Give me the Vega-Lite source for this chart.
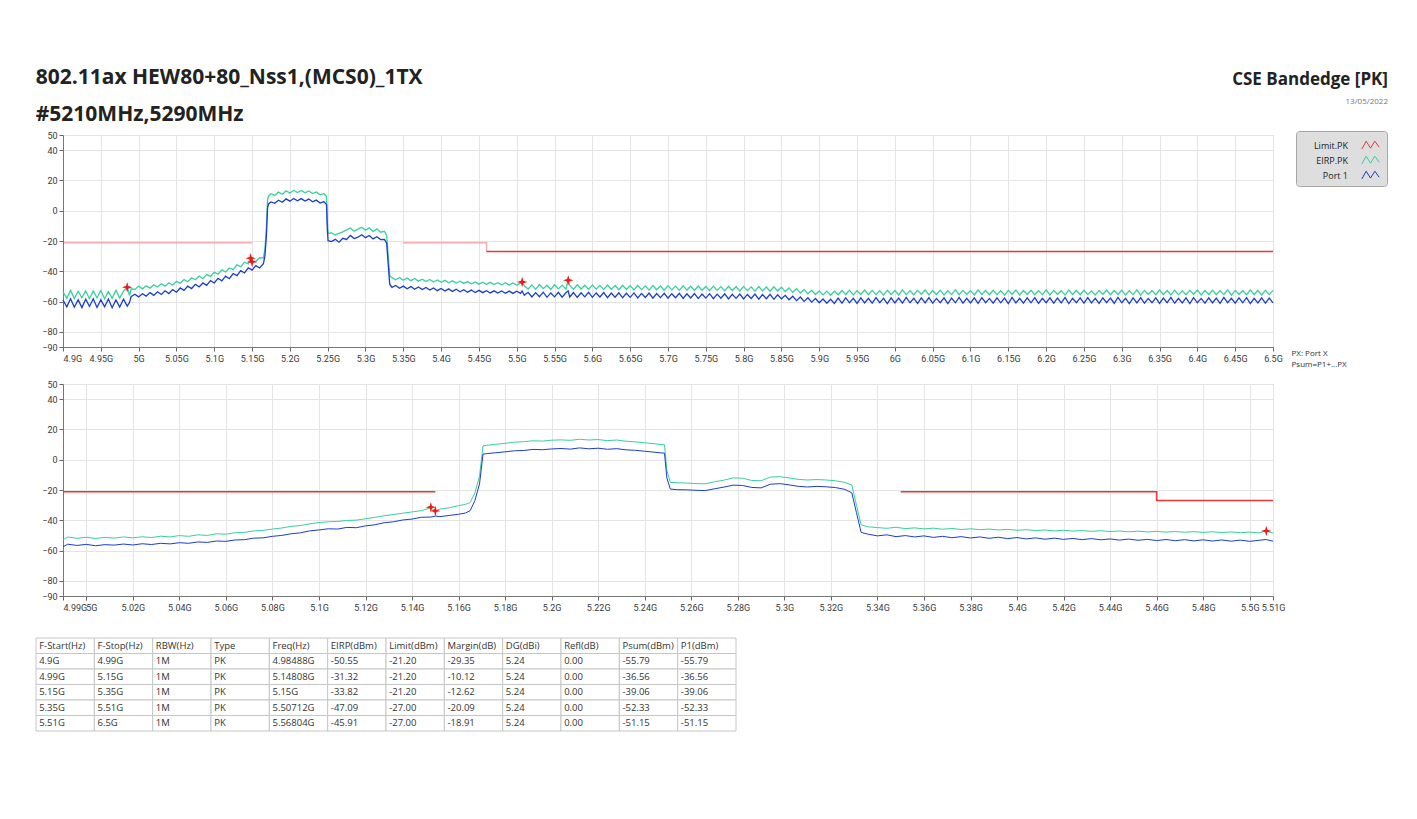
{
"$schema": "https://vega.github.io/schema/vega-lite/v6.json",
"background": "white",
"padding": {"left": 35, "top": 66, "right": 30, "bottom": 0},
"config": {
  "font": "Open Sans",
  "view": {"stroke": "#b5b5b5"},
  "axis": {"labelFontSize": 9, "labelColor": "#3a3a3a", "gridColor": "#e4e4e4", "tickColor": "#666", "domainColor": "#777", "labelFont": "Roboto"}
},
"title": {"text": "CSE Bandedge [PK]", "subtitle": "13/05/2022", "anchor": "end", "fontSize": 17, "fontWeight": "bold", "font": "Open Sans", "color": "#222", "subtitleFontSize": 8, "subtitleColor": "#777", "subtitleFont": "Open Sans", "subtitlePadding": 9, "offset": -41},
"datasets": {
"limTop": [{"i":1,"g":1,"f":4.9,"v":-21.2},{"i":2,"g":1,"f":5.15,"v":-21.2},{"i":3,"g":2,"f":5.35,"v":-21.2},{"i":4,"g":2,"f":5.46,"v":-21.2},{"i":5,"g":2,"f":5.46,"v":-27},{"i":6,"g":3,"f":5.46,"v":-27},{"i":7,"g":3,"f":6.5,"v":-27}],
"limBot": [{"i":1,"g":1,"f":4.99,"v":-21.2},{"i":2,"g":1,"f":5.15,"v":-21.2},{"i":3,"g":2,"f":5.35,"v":-21.2},{"i":4,"g":2,"f":5.46,"v":-21.2},{"i":5,"g":2,"f":5.46,"v":-27},{"i":6,"g":2,"f":5.51,"v":-27}],
"mkTop": [{"f":4.98488,"v":-50.55},{"f":5.14808,"v":-31.32},{"f":5.15,"v":-33.82},{"f":5.50712,"v":-47.09},{"f":5.56804,"v":-45.91}],
"mkBot": [{"f":5.14808,"v":-31.32},{"f":5.15,"v":-33.82},{"f":5.50712,"v":-47.09}],
"top": [
{"f":4.9,"p":-59.0,"e":-53.5},{"f":4.905,"p":-63.5,"e":-57.8},{"f":4.91,"p":-58.2,"e":-52.6},{"f":4.915,"p":-63.8,"e":-58.0},{"f":4.92,"p":-58.8,"e":-53.2},{"f":4.925,"p":-64.0,"e":-57.5},{"f":4.93,"p":-58.5,"e":-52.9},{"f":4.935,"p":-63.2,"e":-58.2},{"f":4.94,"p":-58.1,"e":-53.0},{"f":4.945,"p":-63.9,"e":-57.6},{"f":4.95,"p":-58.7,"e":-52.7},{"f":4.955,"p":-63.4,"e":-58.1},{"f":4.96,"p":-58.3,"e":-53.4},{"f":4.965,"p":-64.1,"e":-57.9},{"f":4.97,"p":-58.9,"e":-52.5},{"f":4.975,"p":-63.6,"e":-57.7},{"f":4.98,"p":-58.4,"e":-53.1},{"f":4.985,"p":-63.0,"e":-50.6},{"f":4.988,"p":-60.5,"e":-56.0},{"f":4.99,"p":-56.8,"e":-51.6},
{"f":4.995,"p":-55.2,"e":-52.0},{"f":5.0,"p":-56.9,"e":-49.8},{"f":5.005,"p":-54.8,"e":-51.6},{"f":5.01,"p":-56.4,"e":-49.6},{"f":5.015,"p":-54.1,"e":-51.1},{"f":5.02,"p":-55.9,"e":-48.9},{"f":5.025,"p":-53.5,"e":-50.4},{"f":5.03,"p":-55.3,"e":-48.2},{"f":5.035,"p":-52.9,"e":-49.8},{"f":5.04,"p":-54.7,"e":-47.6},{"f":5.045,"p":-52.1,"e":-49.2},{"f":5.05,"p":-53.8,"e":-46.6},{"f":5.055,"p":-51.0,"e":-48.0},{"f":5.06,"p":-52.6,"e":-45.5},{"f":5.065,"p":-49.8,"e":-46.9},{"f":5.07,"p":-51.4,"e":-44.3},{"f":5.075,"p":-48.6,"e":-45.6},{"f":5.08,"p":-50.3,"e":-43.1},{"f":5.085,"p":-47.7,"e":-44.9},{"f":5.09,"p":-49.3,"e":-42.2},{"f":5.095,"p":-46.2,"e":-43.4},{"f":5.1,"p":-47.7,"e":-40.6},{"f":5.105,"p":-44.6,"e":-41.9},{"f":5.11,"p":-46.3,"e":-39.1},{"f":5.115,"p":-43.2,"e":-40.5},{"f":5.12,"p":-44.9,"e":-37.8},{"f":5.125,"p":-41.5,"e":-38.9},{"f":5.13,"p":-42.9,"e":-35.8},{"f":5.135,"p":-39.6,"e":-37.0},{"f":5.14,"p":-41.1,"e":-34.0},{"f":5.145,"p":-37.8,"e":-35.1},{"f":5.148,"p":-38.6,"e":-31.5},{"f":5.15,"p":-39.2,"e":-33.8},{"f":5.155,"p":-36.3,"e":-33.4},{"f":5.16,"p":-37.8,"e":-31.0},{"f":5.165,"p":-35.0,"e":-31.2},
{"f":5.167,"p":-30.0,"e":-25.5},{"f":5.169,"p":-16.0,"e":-11.0},{"f":5.1705,"p":2.0,"e":7.5},{"f":5.172,"p":4.6,"e":9.9},
{"f":5.175,"p":5.8,"e":11.2},{"f":5.18,"p":4.9,"e":10.1},{"f":5.185,"p":6.9,"e":12.3},{"f":5.19,"p":5.6,"e":10.9},{"f":5.195,"p":7.8,"e":13.2},{"f":5.2,"p":6.3,"e":11.6},{"f":5.205,"p":8.1,"e":13.5},{"f":5.21,"p":6.6,"e":12.0},{"f":5.215,"p":8.0,"e":13.4},{"f":5.22,"p":6.4,"e":11.8},{"f":5.225,"p":7.7,"e":13.0},{"f":5.23,"p":5.9,"e":11.3},{"f":5.235,"p":7.0,"e":12.4},{"f":5.24,"p":5.1,"e":10.5},{"f":5.245,"p":6.0,"e":11.4},{"f":5.2485,"p":4.0,"e":9.4},{"f":5.2495,"p":-12.0,"e":-7.0},{"f":5.2505,"p":-19.8,"e":-15.0},
{"f":5.255,"p":-20.4,"e":-14.6},{"f":5.26,"p":-18.9,"e":-16.0},{"f":5.265,"p":-20.8,"e":-14.9},{"f":5.27,"p":-18.2,"e":-14.0},{"f":5.275,"p":-19.0,"e":-12.6},{"f":5.28,"p":-16.3,"e":-11.4},{"f":5.285,"p":-18.4,"e":-13.6},{"f":5.29,"p":-17.5,"e":-12.2},{"f":5.295,"p":-15.9,"e":-10.9},{"f":5.3,"p":-17.8,"e":-12.8},{"f":5.305,"p":-16.4,"e":-11.3},{"f":5.31,"p":-18.6,"e":-13.8},{"f":5.315,"p":-17.2,"e":-12.0},{"f":5.32,"p":-19.1,"e":-14.2},{"f":5.325,"p":-18.9,"e":-13.6},{"f":5.328,"p":-21.5,"e":-16.4},{"f":5.33,"p":-35.0,"e":-30.0},{"f":5.332,"p":-48.5,"e":-43.0},{"f":5.335,"p":-50.6,"e":-44.2},
{"f":5.34,"p":-49.4,"e":-45.6},{"f":5.345,"p":-51.2,"e":-44.1},{"f":5.35,"p":-49.8,"e":-45.9},{"f":5.355,"p":-51.5,"e":-44.4},{"f":5.36,"p":-50.1,"e":-46.2},{"f":5.365,"p":-51.9,"e":-44.8},{"f":5.37,"p":-50.4,"e":-46.5},{"f":5.375,"p":-52.1,"e":-45.2},{"f":5.38,"p":-50.7,"e":-46.8},{"f":5.385,"p":-52.4,"e":-45.4},{"f":5.39,"p":-51.0,"e":-47.1},{"f":5.395,"p":-52.8,"e":-45.7},{"f":5.4,"p":-51.3,"e":-47.3},{"f":5.405,"p":-53.0,"e":-46.0},{"f":5.41,"p":-51.6,"e":-47.6},{"f":5.415,"p":-53.3,"e":-46.3},{"f":5.42,"p":-51.9,"e":-47.8},{"f":5.425,"p":-53.5,"e":-46.5},{"f":5.43,"p":-52.2,"e":-48.0},{"f":5.435,"p":-53.8,"e":-46.8},{"f":5.44,"p":-52.4,"e":-48.3},{"f":5.445,"p":-54.0,"e":-47.0},{"f":5.45,"p":-52.6,"e":-48.5},{"f":5.455,"p":-54.1,"e":-47.2},{"f":5.46,"p":-52.8,"e":-48.6},{"f":5.465,"p":-54.3,"e":-47.3},{"f":5.47,"p":-52.9,"e":-48.8},{"f":5.475,"p":-54.4,"e":-47.5},{"f":5.48,"p":-53.0,"e":-48.9},{"f":5.485,"p":-54.5,"e":-47.6},{"f":5.49,"p":-53.1,"e":-49.0},{"f":5.495,"p":-54.6,"e":-47.7},{"f":5.5,"p":-53.2,"e":-49.1},{"f":5.505,"p":-54.6,"e":-47.8},{"f":5.507,"p":-53.0,"e":-47.1},{"f":5.51,"p":-55.9,"e":-49.6},
{"f":5.515,"p":-53.9,"e":-51.7},{"f":5.52,"p":-57.0,"e":-49.0},{"f":5.525,"p":-54.1,"e":-51.9},{"f":5.53,"p":-56.8,"e":-48.8},{"f":5.535,"p":-53.8,"e":-51.5},{"f":5.54,"p":-57.2,"e":-49.2},{"f":5.545,"p":-54.3,"e":-52.0},{"f":5.55,"p":-56.9,"e":-48.9},{"f":5.555,"p":-53.9,"e":-51.6},{"f":5.56,"p":-57.1,"e":-49.1},{"f":5.565,"p":-54.2,"e":-51.8},{"f":5.568,"p":-52.9,"e":-45.9},{"f":5.57,"p":-57.0,"e":-49.3},{"f":5.575,"p":-54.0,"e":-51.9},{"f":5.58,"p":-57.3,"e":-48.9},{"f":5.585,"p":-54.2,"e":-51.7},{"f":5.59,"p":-56.9,"e":-49.2},{"f":5.595,"p":-53.9,"e":-52.0},{"f":5.6,"p":-57.2,"e":-49.0},{"f":5.605,"p":-54.3,"e":-51.8},{"f":5.61,"p":-57.0,"e":-49.3},{"f":5.615,"p":-54.1,"e":-52.1},{"f":5.62,"p":-57.4,"e":-49.1},{"f":5.625,"p":-54.4,"e":-51.9},{"f":5.63,"p":-57.1,"e":-49.4},{"f":5.635,"p":-54.2,"e":-52.2},{"f":5.64,"p":-57.5,"e":-49.2},{"f":5.645,"p":-54.5,"e":-52.0},{"f":5.65,"p":-57.2,"e":-49.5},{"f":5.655,"p":-54.3,"e":-52.3},{"f":5.66,"p":-57.6,"e":-49.3},{"f":5.665,"p":-54.6,"e":-52.1},{"f":5.67,"p":-57.3,"e":-49.6},{"f":5.675,"p":-54.4,"e":-52.4},{"f":5.68,"p":-57.7,"e":-49.4},{"f":5.685,"p":-54.7,"e":-52.2},{"f":5.69,"p":-57.4,"e":-49.7},{"f":5.695,"p":-54.5,"e":-52.5},{"f":5.7,"p":-57.8,"e":-49.5},{"f":5.705,"p":-54.8,"e":-52.3},{"f":5.71,"p":-57.5,"e":-49.8},{"f":5.715,"p":-54.6,"e":-52.6},{"f":5.72,"p":-57.9,"e":-49.6},{"f":5.725,"p":-54.9,"e":-52.4},{"f":5.73,"p":-57.6,"e":-49.9},{"f":5.735,"p":-54.7,"e":-52.7},{"f":5.74,"p":-58.0,"e":-49.7},{"f":5.745,"p":-55.0,"e":-52.5},{"f":5.75,"p":-57.7,"e":-50.0},{"f":5.755,"p":-54.8,"e":-52.8},{"f":5.76,"p":-58.1,"e":-49.8},{"f":5.765,"p":-55.1,"e":-52.6},{"f":5.77,"p":-57.8,"e":-50.1},{"f":5.775,"p":-54.9,"e":-52.9},{"f":5.78,"p":-58.2,"e":-49.9},{"f":5.785,"p":-55.2,"e":-52.7},{"f":5.79,"p":-57.9,"e":-50.2},{"f":5.795,"p":-55.0,"e":-53.0},{"f":5.8,"p":-58.3,"e":-50.0},{"f":5.805,"p":-55.3,"e":-52.8},{"f":5.81,"p":-58.0,"e":-50.3},{"f":5.815,"p":-55.1,"e":-53.1},{"f":5.82,"p":-58.4,"e":-50.1},{"f":5.825,"p":-55.4,"e":-52.9},{"f":5.83,"p":-58.1,"e":-50.4},{"f":5.835,"p":-55.2,"e":-53.2},{"f":5.84,"p":-58.5,"e":-50.2},{"f":5.845,"p":-55.5,"e":-53.0},{"f":5.85,"p":-58.2,"e":-50.5},
{"f":5.855,"p":-55.9,"e":-53.4},{"f":5.86,"p":-58.8,"e":-51.0},{"f":5.865,"p":-56.5,"e":-53.9},{"f":5.87,"p":-59.4,"e":-51.5},{"f":5.875,"p":-57.0,"e":-54.4},{"f":5.88,"p":-59.9,"e":-52.0},{"f":5.885,"p":-57.5,"e":-54.9},{"f":5.89,"p":-60.4,"e":-52.5},{"f":5.895,"p":-58.0,"e":-55.3},{"f":5.9,"p":-60.8,"e":-52.9},{"f":5.905,"p":-58.3,"e":-55.6},{"f":5.91,"p":-61.1,"e":-53.1},{"f":5.915,"p":-58.5,"e":-55.8},{"f":5.92,"p":-61.2,"e":-53.2},
{"f":5.925,"p":-57.7,"e":-55.5},{"f":5.93,"p":-61.0,"e":-52.7},{"f":5.935,"p":-57.5,"e":-55.3},{"f":5.94,"p":-60.8,"e":-52.5},{"f":5.945,"p":-57.9,"e":-55.6},{"f":5.95,"p":-61.2,"e":-52.8},{"f":5.955,"p":-57.6,"e":-55.2},{"f":5.96,"p":-60.9,"e":-52.4},{"f":5.965,"p":-57.8,"e":-55.5},{"f":5.97,"p":-61.1,"e":-52.6},{"f":5.975,"p":-57.4,"e":-55.4},{"f":5.98,"p":-60.7,"e":-52.9},{"f":5.985,"p":-57.9,"e":-55.7},{"f":5.99,"p":-61.3,"e":-52.5},{"f":5.995,"p":-57.5,"e":-55.3},{"f":6.0,"p":-60.9,"e":-52.7},{"f":6.005,"p":-57.7,"e":-55.6},{"f":6.01,"p":-61.0,"e":-52.3},{"f":6.015,"p":-57.3,"e":-55.4},{"f":6.02,"p":-60.8,"e":-52.8},{"f":6.025,"p":-57.8,"e":-55.5},{"f":6.03,"p":-61.2,"e":-52.6},{"f":6.035,"p":-57.6,"e":-55.2},{"f":6.04,"p":-60.9,"e":-52.4},{"f":6.045,"p":-57.4,"e":-55.6},{"f":6.05,"p":-61.1,"e":-52.7},{"f":6.055,"p":-57.9,"e":-55.3},{"f":6.06,"p":-60.7,"e":-52.5},{"f":6.065,"p":-57.5,"e":-55.7},{"f":6.07,"p":-61.3,"e":-52.9},{"f":6.075,"p":-57.7,"e":-55.4},{"f":6.08,"p":-60.8,"e":-52.3},{"f":6.085,"p":-57.3,"e":-55.5},{"f":6.09,"p":-61.0,"e":-52.6},{"f":6.095,"p":-57.8,"e":-55.2},{"f":6.1,"p":-60.9,"e":-52.8},{"f":6.105,"p":-57.6,"e":-55.6},{"f":6.11,"p":-61.2,"e":-52.4},{"f":6.115,"p":-57.4,"e":-55.3},{"f":6.12,"p":-60.7,"e":-52.7},{"f":6.125,"p":-57.9,"e":-55.5},{"f":6.13,"p":-61.1,"e":-52.5},{"f":6.135,"p":-57.5,"e":-55.4},{"f":6.14,"p":-60.8,"e":-52.9},{"f":6.145,"p":-57.7,"e":-55.7},{"f":6.15,"p":-61.3,"e":-52.6},{"f":6.155,"p":-57.3,"e":-55.2},{"f":6.16,"p":-60.9,"e":-52.4},{"f":6.165,"p":-57.8,"e":-55.6},{"f":6.17,"p":-61.0,"e":-52.7},{"f":6.175,"p":-57.6,"e":-55.3},{"f":6.18,"p":-60.8,"e":-52.5},{"f":6.185,"p":-57.4,"e":-55.5},{"f":6.19,"p":-61.2,"e":-52.8},{"f":6.195,"p":-57.9,"e":-55.4},{"f":6.2,"p":-60.7,"e":-52.3},{"f":6.205,"p":-57.5,"e":-55.6},{"f":6.21,"p":-61.1,"e":-52.6},{"f":6.215,"p":-57.7,"e":-55.2},{"f":6.22,"p":-60.9,"e":-52.8},{"f":6.225,"p":-57.3,"e":-55.7},{"f":6.23,"p":-61.3,"e":-52.4},{"f":6.235,"p":-57.8,"e":-55.3},{"f":6.24,"p":-60.8,"e":-52.7},{"f":6.245,"p":-57.6,"e":-55.5},{"f":6.25,"p":-61.0,"e":-52.5},{"f":6.255,"p":-57.4,"e":-55.4},{"f":6.26,"p":-60.9,"e":-52.9},{"f":6.265,"p":-57.9,"e":-55.6},{"f":6.27,"p":-61.2,"e":-52.6},{"f":6.275,"p":-57.5,"e":-55.2},{"f":6.28,"p":-60.7,"e":-52.4},{"f":6.285,"p":-57.7,"e":-55.5},{"f":6.29,"p":-61.1,"e":-52.7},{"f":6.295,"p":-57.3,"e":-55.3},{"f":6.3,"p":-60.8,"e":-52.5},{"f":6.305,"p":-57.8,"e":-55.6},{"f":6.31,"p":-61.3,"e":-52.8},{"f":6.315,"p":-57.6,"e":-55.4},{"f":6.32,"p":-60.9,"e":-52.3},{"f":6.325,"p":-57.4,"e":-55.7},{"f":6.33,"p":-61.0,"e":-52.6},{"f":6.335,"p":-57.9,"e":-55.2},{"f":6.34,"p":-60.8,"e":-52.8},{"f":6.345,"p":-57.5,"e":-55.5},{"f":6.35,"p":-61.2,"e":-52.4},{"f":6.355,"p":-57.7,"e":-55.3},{"f":6.36,"p":-60.7,"e":-52.7},{"f":6.365,"p":-57.3,"e":-55.6},{"f":6.37,"p":-61.1,"e":-52.5},{"f":6.375,"p":-57.8,"e":-55.4},{"f":6.38,"p":-60.9,"e":-52.9},{"f":6.385,"p":-57.6,"e":-55.5},{"f":6.39,"p":-61.3,"e":-52.6},{"f":6.395,"p":-57.4,"e":-55.2},{"f":6.4,"p":-60.8,"e":-52.4},{"f":6.405,"p":-57.9,"e":-55.6},{"f":6.41,"p":-61.0,"e":-52.7},{"f":6.415,"p":-57.5,"e":-55.3},{"f":6.42,"p":-60.9,"e":-52.5},{"f":6.425,"p":-57.7,"e":-55.5},{"f":6.43,"p":-61.2,"e":-52.8},{"f":6.435,"p":-57.3,"e":-55.4},{"f":6.44,"p":-60.7,"e":-52.3},{"f":6.445,"p":-57.8,"e":-55.7},{"f":6.45,"p":-61.1,"e":-52.6},{"f":6.455,"p":-57.6,"e":-55.2},{"f":6.46,"p":-60.8,"e":-52.8},{"f":6.465,"p":-57.4,"e":-55.5},{"f":6.47,"p":-61.3,"e":-52.4},{"f":6.475,"p":-57.9,"e":-55.3},{"f":6.48,"p":-60.9,"e":-52.7},{"f":6.485,"p":-57.5,"e":-55.6},{"f":6.49,"p":-61.0,"e":-52.5},{"f":6.495,"p":-57.7,"e":-55.4},{"f":6.5,"p":-60.8,"e":-52.6}
],
"bot": [
{"f":4.99,"p":-57.5,"e":-52.8},{"f":4.992,"p":-55.8,"e":-51.0},{"f":4.996,"p":-56.6,"e":-51.9},{"f":5.0,"p":-55.9,"e":-51.2},{"f":5.004,"p":-56.8,"e":-52.0},{"f":5.008,"p":-56.1,"e":-51.3},{"f":5.012,"p":-56.4,"e":-51.8},{"f":5.016,"p":-55.7,"e":-51.0},{"f":5.02,"p":-56.3,"e":-51.6},{"f":5.024,"p":-55.5,"e":-50.9},{"f":5.028,"p":-56.0,"e":-51.4},{"f":5.032,"p":-55.2,"e":-50.5},{"f":5.036,"p":-55.6,"e":-51.0},{"f":5.04,"p":-54.8,"e":-50.1},{"f":5.044,"p":-55.2,"e":-50.6},{"f":5.048,"p":-54.3,"e":-49.6},{"f":5.052,"p":-54.6,"e":-50.0},{"f":5.056,"p":-53.7,"e":-48.9},{"f":5.06,"p":-53.9,"e":-49.2},{"f":5.064,"p":-53.0,"e":-48.2},{"f":5.068,"p":-52.8,"e":-48.0},{"f":5.072,"p":-51.8,"e":-47.0},{"f":5.076,"p":-51.6,"e":-46.7},{"f":5.08,"p":-50.6,"e":-45.8},{"f":5.084,"p":-50.0,"e":-45.1},{"f":5.088,"p":-48.9,"e":-44.0},{"f":5.092,"p":-48.3,"e":-43.5},{"f":5.096,"p":-47.0,"e":-42.3},{"f":5.1,"p":-46.4,"e":-41.5},{"f":5.104,"p":-45.6,"e":-41.0},{"f":5.108,"p":-45.8,"e":-40.8},{"f":5.112,"p":-44.7,"e":-40.1},{"f":5.116,"p":-44.9,"e":-39.9},{"f":5.12,"p":-43.7,"e":-39.0},{"f":5.124,"p":-43.0,"e":-38.1},{"f":5.128,"p":-41.6,"e":-37.0},{"f":5.132,"p":-41.0,"e":-36.2},{"f":5.136,"p":-39.8,"e":-35.3},{"f":5.14,"p":-39.2,"e":-34.5},{"f":5.144,"p":-38.0,"e":-33.6},{"f":5.148,"p":-37.9,"e":-31.8},{"f":5.15,"p":-37.2,"e":-33.8},{"f":5.152,"p":-37.6,"e":-32.6},{"f":5.156,"p":-36.8,"e":-31.7},{"f":5.16,"p":-36.0,"e":-30.3},{"f":5.163,"p":-35.2,"e":-29.5},{"f":5.165,"p":-33.6,"e":-28.2},{"f":5.167,"p":-27.0,"e":-22.0},{"f":5.169,"p":-16.0,"e":-10.8},{"f":5.1705,"p":3.7,"e":9.2},{"f":5.172,"p":4.0,"e":9.5},{"f":5.176,"p":4.6,"e":10.2},{"f":5.18,"p":5.2,"e":10.8},{"f":5.184,"p":5.9,"e":11.6},{"f":5.188,"p":6.1,"e":11.9},{"f":5.192,"p":6.8,"e":12.5},{"f":5.196,"p":6.6,"e":12.3},{"f":5.2,"p":7.1,"e":12.9},{"f":5.204,"p":7.4,"e":13.1},{"f":5.208,"p":7.0,"e":12.8},{"f":5.212,"p":7.8,"e":13.5},{"f":5.216,"p":7.2,"e":13.0},{"f":5.22,"p":7.6,"e":13.3},{"f":5.224,"p":6.9,"e":12.6},{"f":5.228,"p":7.3,"e":13.0},{"f":5.232,"p":6.5,"e":12.2},{"f":5.236,"p":6.2,"e":11.8},{"f":5.24,"p":5.6,"e":11.2},{"f":5.244,"p":5.0,"e":10.6},{"f":5.247,"p":4.5,"e":10.0},{"f":5.2485,"p":4.3,"e":9.9},{"f":5.2495,"p":-12.0,"e":-7.0},{"f":5.251,"p":-19.4,"e":-15.0},{"f":5.254,"p":-19.8,"e":-15.2},{"f":5.258,"p":-19.9,"e":-15.4},{"f":5.262,"p":-20.2,"e":-15.8},{"f":5.266,"p":-20.4,"e":-15.9},{"f":5.27,"p":-19.2,"e":-14.6},{"f":5.274,"p":-18.1,"e":-13.5},{"f":5.278,"p":-16.8,"e":-12.0},{"f":5.282,"p":-17.0,"e":-12.2},{"f":5.286,"p":-18.3,"e":-13.7},{"f":5.29,"p":-18.6,"e":-13.9},{"f":5.294,"p":-16.2,"e":-11.5},{"f":5.298,"p":-15.8,"e":-11.2},{"f":5.302,"p":-16.6,"e":-12.0},{"f":5.306,"p":-17.6,"e":-13.0},{"f":5.31,"p":-18.0,"e":-13.4},{"f":5.314,"p":-17.6,"e":-13.1},{"f":5.318,"p":-17.9,"e":-13.4},{"f":5.322,"p":-18.4,"e":-13.9},{"f":5.326,"p":-19.6,"e":-15.0},{"f":5.329,"p":-21.9,"e":-16.8},{"f":5.331,"p":-35.0,"e":-30.0},{"f":5.333,"p":-48.0,"e":-43.0},{"f":5.336,"p":-49.2,"e":-44.3},{"f":5.34,"p":-50.3,"e":-44.8},{"f":5.344,"p":-49.6,"e":-45.3},{"f":5.348,"p":-50.8,"e":-44.6},{"f":5.352,"p":-50.1,"e":-45.5},{"f":5.356,"p":-51.0,"e":-45.0},{"f":5.36,"p":-50.3,"e":-45.7},{"f":5.364,"p":-51.3,"e":-45.2},{"f":5.368,"p":-50.6,"e":-45.9},{"f":5.372,"p":-51.5,"e":-45.4},{"f":5.376,"p":-50.8,"e":-46.1},{"f":5.38,"p":-51.7,"e":-45.6},{"f":5.384,"p":-51.0,"e":-46.2},{"f":5.388,"p":-51.9,"e":-45.8},{"f":5.392,"p":-51.2,"e":-46.4},{"f":5.396,"p":-52.1,"e":-46.0},{"f":5.4,"p":-51.4,"e":-46.6},{"f":5.404,"p":-52.3,"e":-46.2},{"f":5.408,"p":-51.6,"e":-46.8},{"f":5.412,"p":-52.5,"e":-46.4},{"f":5.416,"p":-51.8,"e":-47.0},{"f":5.42,"p":-52.6,"e":-46.6},{"f":5.424,"p":-52.0,"e":-47.1},{"f":5.428,"p":-52.8,"e":-46.8},{"f":5.432,"p":-52.1,"e":-47.3},{"f":5.436,"p":-52.9,"e":-46.9},{"f":5.44,"p":-52.3,"e":-47.4},{"f":5.444,"p":-53.1,"e":-47.1},{"f":5.448,"p":-52.4,"e":-47.6},{"f":5.452,"p":-53.2,"e":-47.2},{"f":5.456,"p":-52.6,"e":-47.7},{"f":5.46,"p":-53.4,"e":-47.3},{"f":5.464,"p":-52.7,"e":-47.8},{"f":5.468,"p":-53.5,"e":-47.4},{"f":5.472,"p":-52.8,"e":-47.9},{"f":5.476,"p":-53.6,"e":-47.5},{"f":5.48,"p":-52.9,"e":-48.0},{"f":5.484,"p":-53.7,"e":-47.6},{"f":5.488,"p":-53.0,"e":-48.1},{"f":5.492,"p":-53.8,"e":-47.7},{"f":5.496,"p":-53.1,"e":-48.2},{"f":5.5,"p":-53.9,"e":-47.8},{"f":5.504,"p":-53.2,"e":-48.3},{"f":5.507,"p":-52.7,"e":-47.1},{"f":5.51,"p":-53.8,"e":-48.4}
],
"tbl": [
{"r":0,"a":"F-Start(Hz)","b":"F-Stop(Hz)","c":"RBW(Hz)","d":"Type","e":"Freq(Hz)","f":"EIRP(dBm)","g":"Limit(dBm)","h":"Margin(dB)","i":"DG(dBi)","j":"Refl(dB)","k":"Psum(dBm)","l":"P1(dBm)"},
{"r":1,"a":"4.9G","b":"4.99G","c":"1M","d":"PK","e":"4.98488G","f":"-50.55","g":"-21.20","h":"-29.35","i":"5.24","j":"0.00","k":"-55.79","l":"-55.79"},
{"r":2,"a":"4.99G","b":"5.15G","c":"1M","d":"PK","e":"5.14808G","f":"-31.32","g":"-21.20","h":"-10.12","i":"5.24","j":"0.00","k":"-36.56","l":"-36.56"},
{"r":3,"a":"5.15G","b":"5.35G","c":"1M","d":"PK","e":"5.15G","f":"-33.82","g":"-21.20","h":"-12.62","i":"5.24","j":"0.00","k":"-39.06","l":"-39.06"},
{"r":4,"a":"5.35G","b":"5.51G","c":"1M","d":"PK","e":"5.50712G","f":"-47.09","g":"-27.00","h":"-20.09","i":"5.24","j":"0.00","k":"-52.33","l":"-52.33"},
{"r":5,"a":"5.51G","b":"6.5G","c":"1M","d":"PK","e":"5.56804G","f":"-45.91","g":"-27.00","h":"-18.91","i":"5.24","j":"0.00","k":"-51.15","l":"-51.15"}
]
},
"spacing": 24,
"vconcat": [
{
 "spacing": 10,
 "resolve": {"scale": {"color": "independent"}, "legend": {"color": "independent"}},
 "vconcat": [
 {
  "width": 1210, "height": 212,
  "title": {"text": ["802.11ax HEW80+80_Nss1,(MCS0)_1TX", "#5210MHz,5290MHz"], "anchor": "start", "fontSize": 21, "fontWeight": "bold", "font": "Open Sans", "color": "#222", "lineHeight": 37, "offset": 6, "dx": -6},
  "layer": [
   {"data": {"name": "limTop"}, "mark": {"type": "line", "strokeWidth": 1.5},
    "encoding": {
     "x": {"field": "f", "type": "quantitative", "scale": {"domain": [4.9, 6.5], "nice": false, "zero": false},
       "axis": {"values": [4.9,4.95,5,5.05,5.1,5.15,5.2,5.25,5.3,5.35,5.4,5.45,5.5,5.55,5.6,5.65,5.7,5.75,5.8,5.85,5.9,5.95,6,6.05,6.1,6.15,6.2,6.25,6.3,6.35,6.4,6.45,6.5], "tickCount": 60,
        "labelExpr": "format(datum.value, '.4~g') + 'G'", "labelFlush": false, "labelOverlap": false, "labelBound": false,
        "labelAlign": {"condition": {"test": "datum.value < 4.92", "value": "left"}, "value": "center"},
        "tickSize": 4, "labelPadding": 3, "grid": true,
        "title": ["PX: Port X", "Psum=P1+...PX"], "titleX": 1228, "titleY": 6, "titleAlign": "left", "titleBaseline": "middle", "titleFontSize": 8, "titleFontWeight": "normal", "titleLineHeight": 11, "titleColor": "#333", "titleFont": "Open Sans"}},
     "y": {"field": "v", "type": "quantitative", "scale": {"domain": [-90, 50], "nice": false, "zero": false},
       "axis": {"values": [50,40,20,0,-20,-40,-60,-80,-90], "tickCount": 20, "labelOverlap": false, "title": null, "tickSize": 4, "labelPadding": 2, "grid": true}},
     "detail": {"field": "g"},
     "order": {"field": "i"},
     "opacity": {"condition": {"test": "datum.v > -25", "value": 0.4}, "value": 1},
     "color": {"datum": "Limit.PK", "type": "nominal",
       "scale": {"domain": ["Limit.PK", "EIRP.PK", "Port 1"], "range": ["#ee3535", "#38d09b", "#1a3dd0"]},
       "legend": {"title": null, "orient": "none", "legendX": 1233, "legendY": -4, "padding": 5, "fillColor": "#dedede", "strokeColor": "#a6a6a6", "cornerRadius": 3,
         "labelFontSize": 9, "labelColor": "#222", "labelAlign": "right", "labelOffset": -32, "symbolOffset": 60, "rowPadding": 0,
         "symbolType": "M-1,0.4L-0.5,-0.5L0,0.3L0.5,-0.5L1,0.2", "symbolSize": 300, "symbolStrokeWidth": 1, "symbolFillColor": "transparent"}}
    }},
   {"data": {"name": "top"}, "mark": {"type": "line", "strokeWidth": 1.3},
    "encoding": {"x": {"field": "f", "type": "quantitative"}, "y": {"field": "e", "type": "quantitative"}, "color": {"datum": "EIRP.PK", "type": "nominal"}}},
   {"data": {"name": "top"}, "mark": {"type": "line", "strokeWidth": 1.3},
    "encoding": {"x": {"field": "f", "type": "quantitative"}, "y": {"field": "p", "type": "quantitative"}, "color": {"datum": "Port 1", "type": "nominal"}}},
   {"data": {"name": "mkTop"}, "mark": {"type": "point", "shape": "M0,-1L0.22,-0.22L1,0L0.22,0.22L0,1L-0.22,0.22L-1,0L-0.22,-0.22Z", "filled": true, "color": "#f01818", "size": 110, "opacity": 1},
    "encoding": {"x": {"field": "f", "type": "quantitative"}, "y": {"field": "v", "type": "quantitative"}}}
  ]
 },
 {
  "width": 1210, "height": 212,
  "layer": [
   {"data": {"name": "limBot"}, "mark": {"type": "line", "strokeWidth": 1.5},
    "encoding": {
     "x": {"field": "f", "type": "quantitative", "scale": {"domain": [4.99, 5.51], "nice": false, "zero": false},
       "axis": {"values": [4.99,5,5.02,5.04,5.06,5.08,5.1,5.12,5.14,5.16,5.18,5.2,5.22,5.24,5.26,5.28,5.3,5.32,5.34,5.36,5.38,5.4,5.42,5.44,5.46,5.48,5.5,5.51], "tickCount": 60,
        "labelExpr": "format(datum.value, '.4~g') + 'G'", "labelFlush": false, "labelOverlap": false, "labelBound": false,
        "labelAlign": {"condition": {"test": "datum.value < 4.995", "value": "left"}, "value": "center"},
        "labelOffset": {"condition": {"test": "datum.value == 5", "value": 5}, "value": 0},
        "tickSize": 4, "labelPadding": 3, "grid": true, "title": null}},
     "y": {"field": "v", "type": "quantitative", "scale": {"domain": [-90, 50], "nice": false, "zero": false},
       "axis": {"values": [50,40,20,0,-20,-40,-60,-80,-90], "tickCount": 20, "labelOverlap": false, "title": null, "tickSize": 4, "labelPadding": 2, "grid": true}},
     "detail": {"field": "g"},
     "order": {"field": "i"},
     "color": {"datum": "Limit.PK", "type": "nominal",
       "scale": {"domain": ["Limit.PK", "EIRP.PK", "Port 1"], "range": ["#ee3535", "#38d09b", "#1a3dd0"]}, "legend": null}
    }},
   {"data": {"name": "bot"}, "mark": {"type": "line", "strokeWidth": 1},
    "encoding": {"x": {"field": "f", "type": "quantitative"}, "y": {"field": "e", "type": "quantitative"}, "color": {"datum": "EIRP.PK", "type": "nominal", "legend": null}}},
   {"data": {"name": "bot"}, "mark": {"type": "line", "strokeWidth": 1},
    "encoding": {"x": {"field": "f", "type": "quantitative"}, "y": {"field": "p", "type": "quantitative"}, "color": {"datum": "Port 1", "type": "nominal", "legend": null}}},
   {"data": {"name": "mkBot"}, "mark": {"type": "point", "shape": "M0,-1L0.22,-0.22L1,0L0.22,0.22L0,1L-0.22,0.22L-1,0L-0.22,-0.22Z", "filled": true, "color": "#f01818", "size": 110, "opacity": 1},
    "encoding": {"x": {"field": "f", "type": "quantitative"}, "y": {"field": "v", "type": "quantitative"}}}
  ]
 }
 ]
},
{
 "width": 700, "height": 93,
 "view": {"stroke": null},
 "data": {"name": "tbl"},
 "transform": [{"fold": ["a","b","c","d","e","f","g","h","i","j","k","l"], "as": ["col", "txt"]}],
 "encoding": {
  "x": {"field": "col", "type": "nominal",
    "scale": {"domain": ["a","b","c","d","e","f","g","h","i","j","k","l"], "paddingInner": 0, "paddingOuter": 0},
    "axis": null},
  "y": {"field": "r", "type": "ordinal",
    "scale": {"paddingInner": 0, "paddingOuter": 0},
    "axis": null}
 },
 "layer": [
  {"mark": {"type": "rect", "fill": "white", "stroke": "#c6c6c6", "strokeWidth": 1, "xOffset": -27, "x2Offset": -27}},
  {"mark": {"type": "text", "align": "left", "dx": -53, "fontSize": 9.5, "color": "#333", "font": "Open Sans"},
   "encoding": {"text": {"field": "txt"}}}
 ]
}
]
}
